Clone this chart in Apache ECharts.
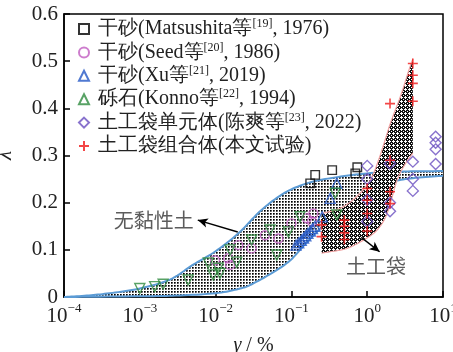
<!DOCTYPE html>
<html><head><meta charset="utf-8">
<script src="https://cdn.jsdelivr.net/npm/echarts/dist/echarts.min.js"></script>
<style>html,body{margin:0;padding:0;background:#fff}#c{width:453px;height:352px}</style>
</head><body><div id="c"></div>
<script>
// ---------- data ----------
const xTicks = [1e-4, 1e-3, 1e-2, 1e-1, 1, 10];
const yTicks = [0, 0.1, 0.2, 0.3, 0.4, 0.5, 0.6];
const legendNames = [
  '干砂(Matsushita等[19], 1976)',
  '干砂(Seed等[20], 1986)',
  '干砂(Xu等[21], 2019)',
  '砾石(Konno等[22], 1994)',
  '土工袋单元体(陈爽等[23], 2022)',
  '土工袋组合体(本文试验)'
];
const matsushita = [[0.177,0.241],[0.206,0.259],[0.345,0.269],[0.697,0.262],[0.74,0.275]];
const seed = [[0.0098,0.078],[0.0147,0.082],[0.0155,0.068],[0.0199,0.11],[0.0299,0.103],[0.0448,0.131],
  [0.0674,0.124],[0.1,0.156],[0.16,0.167],[0.195,0.177],[0.187,0.16]];
const xu = [[0.115,0.11],[0.125,0.115],[0.135,0.12],[0.145,0.125],[0.155,0.13],[0.165,0.135],[0.178,0.14],
  [0.19,0.145],[0.205,0.15],[0.255,0.17],[0.325,0.209],[0.397,0.241]];
const konno = [[0.001,0.018],[0.00157,0.022],[0.00203,0.027],[0.00434,0.036],[0.008,0.072],[0.0093,0.047],
  [0.0114,0.05],[0.0108,0.061],[0.0155,0.10],[0.019,0.074],[0.0299,0.121],[0.0523,0.142],[0.0641,0.089],
  [0.0913,0.138],[0.13,0.17],[0.378,0.22],[0.397,0.174]];
const chen = [[1,0.278],[1,0.25],[1,0.206],[1,0.16],[2,0.283],[2,0.2],[2,0.182],[4,0.287],[4,0.25],[4,0.225],
  [8,0.34],[8,0.327],[8,0.313],[8,0.282]];
const thisStudy = [[0.25,0.153],[0.25,0.128],[0.5,0.163],[0.5,0.15],[0.5,0.136],[0.5,0.122],
  [1,0.23],[1,0.205],[1,0.177],[1,0.14],[2,0.41],[2,0.29],[2,0.223],[2,0.198],
  [4,0.495],[4,0.47],[4,0.453],[4,0.415]];
const soilUpper = [[1e-4,0],[2e-4,0.003],[4e-4,0.008],[1e-3,0.018],[2.5e-3,0.037],[5e-3,0.068],[1e-2,0.097],
  [2e-2,0.135],[4e-2,0.184],[8e-2,0.22],[0.16,0.241],[0.33,0.252],[1,0.262],[3,0.266],[10,0.267]];
const soilLower = [[1e-4,0],[1e-3,0.0015],[3e-3,0.003],[0.01,0.008],[0.02,0.017],[0.03,0.027],[0.064,0.057],
  [0.097,0.078],[0.13,0.10],[0.18,0.125],[0.3,0.16],[0.6,0.2],[1,0.222],[2,0.243],[4,0.252],[10,0.257]];
const bagUpper = [[0.25,0.177],[0.44,0.188],[0.73,0.213],[1.1,0.248],[1.46,0.297],[2.02,0.368],[2.74,0.425],[3.5,0.478],[4,0.505]];
const bagLower = [[0.25,0.093],[0.325,0.096],[0.54,0.103],[0.9,0.121],[1.35,0.142],[1.83,0.177],[2.48,0.248],[3.2,0.283],[4,0.305]];
const noteTexts = ['无黏性土', '土工袋'];
const notePos = [[0.00153, 0.163], [1.31, 0.064]];
const arrowLines = [[[0.0196,0.138],[0.00582,0.163]], [[0.835,0.1266],[1.457,0.096]]];

// ---------- helpers ----------
function makePattern(size, draw) {
  const c = document.createElement('canvas');
  c.width = size; c.height = size;
  const g = c.getContext('2d');
  draw(g);
  return c;
}
const dotPattern = makePattern(3, g => {
  g.fillStyle = '#fff'; g.fillRect(0,0,3,3);
  g.fillStyle = '#000'; g.fillRect(0,0,1,1);
  g.fillStyle = '#4a4a4a'; g.fillRect(1,0,1,1); g.fillRect(0,1,1,1);
  g.fillStyle = '#8a8a8a'; g.fillRect(1,1,1,1);
});
const crossPattern = makePattern(4, g => {
  g.fillStyle = '#111'; g.fillRect(0,0,4,4);
  g.fillStyle = '#fff';
  g.fillRect(1,0,1,1); g.fillRect(0,1,3,1); g.fillRect(1,2,1,1); g.fillRect(3,3,1,1);
});

function spline(pts, steps) {
  const out = [];
  for (let i = 0; i < pts.length - 1; i++) {
    const p0 = pts[i-1] || pts[i], p1 = pts[i], p2 = pts[i+1], p3 = pts[i+2] || pts[i+1];
    for (let s = 0; s < steps; s++) {
      const t = s / steps, t2 = t*t, t3 = t2*t;
      const f = k => 0.5 * ((2*p1[k]) + (-p0[k]+p2[k])*t + (2*p0[k]-5*p1[k]+4*p2[k]-p3[k])*t2 + (-p0[k]+3*p1[k]-3*p2[k]+p3[k])*t3);
      out.push([f(0), f(1)]);
    }
  }
  out.push(pts[pts.length-1].slice());
  return out;
}

function band(name, upper, lower, fillImg, stroke, lw, z) {
  return {
    name, type: 'custom', coordinateSystem: 'cartesian2d', z, silent: true,
    data: upper.concat(lower), encode: {x: 0, y: 1},
    renderItem(params, api) {
      if (params.dataIndex !== 0) return null;
      const up = spline(upper.map(p => api.coord(p)), 10);
      const lo = spline(lower.map(p => api.coord(p)), 10);
      return {type: 'group', children: [
        {type: 'polygon', shape: {points: up.concat(lo.slice().reverse())},
          style: {fill: {image: fillImg, repeat: 'repeat'}, stroke: null}},
        {type: 'polyline', shape: {points: up}, style: {fill: null, stroke, lineWidth: lw}},
        {type: 'polyline', shape: {points: lo}, style: {fill: null, stroke, lineWidth: lw}}
      ]};
    }
  };
}

const serif = "Liberation Serif";
const textColor = '#222';
const plusPath = 'path://M0,5L10,5M5,0L5,10';

function sc(name, data, symbol, size, color, extra) {
  return Object.assign({
    name, type: 'scatter', data, symbol, symbolSize: size, z: 5,
    itemStyle: {color: 'rgba(0,0,0,0)', borderColor: color, borderWidth: 1.4}
  }, extra || {});
}

const legends = legendNames.map((n, i) => ({
  data: [n], orient: 'vertical', left: 78, top: 18 + i * 23.4, padding: 0,
  itemWidth: 10, itemHeight: 10, selectedMode: false,
  formatter: s => s.replace(/\[(\d+)\]/, '{s|[$1]}'),
  textStyle: {fontFamily: serif, fontSize: 20, color: textColor, lineHeight: 22, padding: [0,0,0,4],
    rich: {s: {fontFamily: serif, fontSize: 12, color: textColor, verticalAlign: 'top', lineHeight: 12}}}
}));

const chart = echarts.init(document.getElementById('c'), null, {renderer: 'canvas'});
chart.setOption({
  animation: false,
  backgroundColor: '#fff',
  grid: {left: 64, right: 10, top: 14, bottom: 55, show: true, borderColor: '#000', borderWidth: 1.5,
    backgroundColor: 'transparent', containLabel: false, outerBoundsMode: 'none'},
  legend: legends,
  xAxis: {
    type: 'log', logBase: 10, min: xTicks[0], max: xTicks[xTicks.length-1],
    axisLine: {lineStyle: {color: '#000', width: 1.5}},
    axisTick: {inside: true, length: 6, lineStyle: {color: '#000', width: 1.5}},
    minorTick: {show: false}, splitLine: {show: false},
    axisLabel: {margin: 5, color: textColor, hideOverlap: false,
      formatter: v => '{b|10}{s|' + String(Math.round(Math.log10(v))).replace('-', '−') + '}',
      rich: {b: {fontFamily: serif, fontSize: 21, color: textColor, lineHeight: 28},
             s: {fontFamily: serif, fontSize: 13, color: textColor, verticalAlign: 'top', lineHeight: 14}}},
    name: '{i|γ} / %', nameLocation: 'middle', nameGap: 39,
    nameTextStyle: {fontFamily: serif, fontSize: 20, color: textColor,
      rich: {i: {fontFamily: serif, fontSize: 20, fontStyle: 'italic', color: textColor}}}
  },
  yAxis: {
    type: 'value', min: yTicks[0], max: yTicks[yTicks.length-1], interval: 0.1,
    axisLine: {lineStyle: {color: '#000', width: 1.5}},
    axisTick: {inside: true, length: 6, lineStyle: {color: '#000', width: 1.5}},
    splitLine: {show: false},
    axisLabel: {margin: 6, fontFamily: serif, fontSize: 21, color: textColor,
      formatter: v => v === 0 ? '0' : v.toFixed(1)},
    name: 'λ', nameLocation: 'middle', nameRotate: 90, nameGap: 48,
    nameTextStyle: {fontFamily: serif, fontSize: 21, fontStyle: 'italic', color: textColor}
  },
  series: [
    band('soil', soilUpper, soilLower, dotPattern, '#5b9bd5', 2, 1),
    band('bag', bagUpper, bagLower, crossPattern, '#f2a3a3', 1.2, 2),
    sc(legendNames[0], matsushita, 'rect', 8.5, '#000'),
    sc(legendNames[1], seed, 'circle', 9, '#c05cc0'),
    sc(legendNames[2], xu, 'triangle', 10, '#2457c5'),
    sc(legendNames[3], konno, 'triangle', 10, '#2e8b3e', {symbolRotate: 180}),
    sc(legendNames[4], chen, 'diamond', 11, '#6a4fc0'),
    sc(legendNames[5], thisStudy, plusPath, 10, '#f01818', {itemStyle: {color: 'rgba(0,0,0,0)', borderColor: '#f01818', borderWidth: 1.6}}),
    {
      name: 'notes', type: 'scatter', z: 6, silent: true, symbolSize: 1,
      itemStyle: {color: 'rgba(0,0,0,0)'},
      data: notePos.map((p, i) => ({value: p, name: noteTexts[i]})),
      label: {show: true, position: 'inside', formatter: p => p.name,
        fontFamily: 'Noto Sans CJK SC', fontSize: 20, color: '#333'},
      markLine: {
        silent: true, symbol: ['none', 'arrow'], symbolSize: [7, 10], label: {show: false},
        lineStyle: {color: '#000', width: 1.5, type: 'solid'},
        data: arrowLines.map(l => [{coord: l[0]}, {coord: l[1]}])
      }
    }
  ]
});
</script></body></html>
